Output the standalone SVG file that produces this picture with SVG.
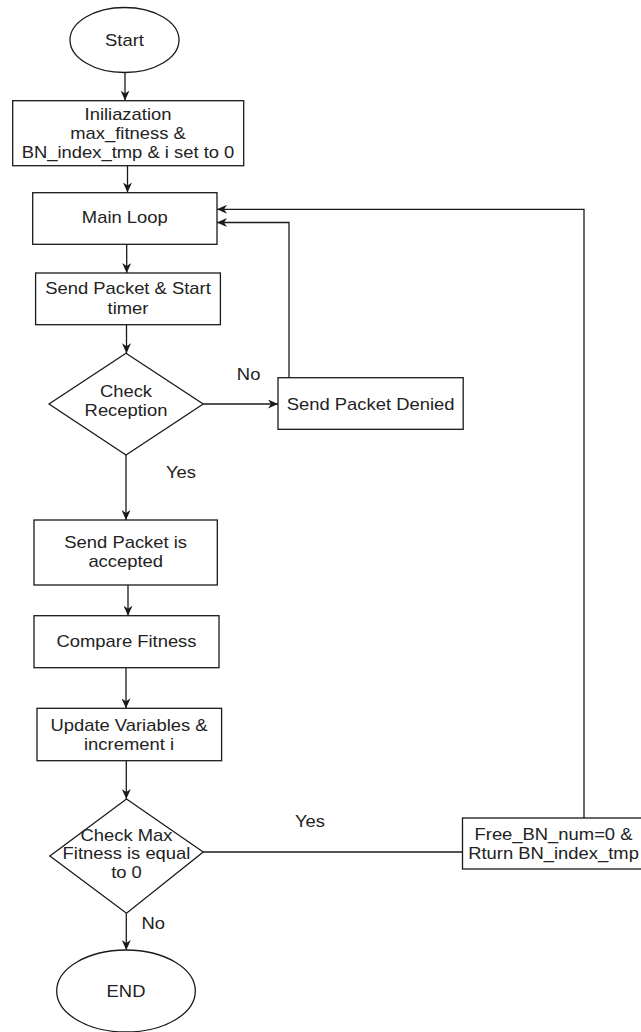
<svg xmlns="http://www.w3.org/2000/svg" width="641" height="1032" viewBox="0 0 641 1032">
<style>
.shape{fill:#fff;stroke:#1a1a1a;stroke-width:1.3}
.edge{fill:none;stroke:#1a1a1a;stroke-width:1.3}
text{font-family:"Liberation Sans",Arial,sans-serif;font-size:16px;fill:#222;text-anchor:middle}
</style>
<defs>
<marker id="arr" markerUnits="userSpaceOnUse" markerWidth="10" markerHeight="9" viewBox="0 0 10 9" refX="10" refY="4.5" orient="auto">
<path d="M0,0 L10,4.5 L0,9 L3,4.5 z" fill="#1a1a1a"/>
</marker>
</defs>
<rect width="641" height="1032" fill="#fff"/>
<g id="connectors">
<path class="edge" d="M125,72.5 L125,100.5" marker-end="url(#arr)"/>
<path class="edge" d="M127.5,166 L127.5,192.5" marker-end="url(#arr)"/>
<path class="edge" d="M126.7,244.3 L126.7,273" marker-end="url(#arr)"/>
<path class="edge" d="M126.5,324.7 L126.5,353.3" marker-end="url(#arr)"/>
<path class="edge" d="M203.2,404 L278,404" marker-end="url(#arr)"/>
<path class="edge" d="M289,377.7 L289,222.5 L217,222.5" marker-end="url(#arr)"/>
<path class="edge" d="M584,818 L584,209.3 L217,209.3" marker-end="url(#arr)"/>
<path class="edge" d="M126,455 L126,520" marker-end="url(#arr)"/>
<path class="edge" d="M128,585 L128,615.7" marker-end="url(#arr)"/>
<path class="edge" d="M126,667.7 L126,708.3" marker-end="url(#arr)"/>
<path class="edge" d="M126.3,760.7 L126.3,799" marker-end="url(#arr)"/>
<path class="edge" d="M203.2,852 L462.5,852"/>
<path class="edge" d="M126.3,913.3 L126.3,950" marker-end="url(#arr)"/>
<text transform="translate(248.6,379.5) scale(1.15,1)">No</text>
<text transform="translate(181,478) scale(1.15,1)">Yes</text>
<text transform="translate(310,827) scale(1.15,1)">Yes</text>
<text transform="translate(153.3,928.5) scale(1.15,1)">No</text>
</g>
<g id="start">
<ellipse class="shape" cx="124.5" cy="40" rx="54.5" ry="32.5"/>
<text transform="translate(124.5,45.5) scale(1.15,1)">Start</text>
</g>
<g id="init">
<rect class="shape" x="12.7" y="100.7" width="231" height="65"/>
<text transform="translate(128,120) scale(1.15,1)">Iniliazation</text>
<text transform="translate(128,139) scale(1.15,1)">max_fitness &amp;</text>
<text transform="translate(128,158) scale(1.15,1)">BN_index_tmp &amp; i set to 0</text>
</g>
<g id="mainloop">
<rect class="shape" x="32.7" y="192.7" width="184.3" height="51.6"/>
<text transform="translate(124.8,223) scale(1.15,1)">Main Loop</text>
</g>
<g id="sendpacket">
<rect class="shape" x="35.6" y="273" width="184.8" height="51.7"/>
<text transform="translate(128,294) scale(1.15,1)">Send Packet &amp; Start</text>
<text transform="translate(128,313.5) scale(1.15,1)">timer</text>
</g>
<g id="checkreception">
<polygon class="shape" points="126,353.3 203.2,404 126,455 49,404"/>
<text transform="translate(126,396.5) scale(1.15,1)">Check</text>
<text transform="translate(126,416) scale(1.15,1)">Reception</text>
</g>
<g id="denied">
<rect class="shape" x="278" y="377.7" width="185.2" height="51.6"/>
<text transform="translate(370.6,409.5) scale(1.15,1)">Send Packet Denied</text>
</g>
<g id="accepted">
<rect class="shape" x="34" y="520" width="183.3" height="65"/>
<text transform="translate(125.7,547.8) scale(1.15,1)">Send Packet is</text>
<text transform="translate(125.7,567.2) scale(1.15,1)">accepted</text>
</g>
<g id="compare">
<rect class="shape" x="34" y="615.7" width="185" height="52"/>
<text transform="translate(126.5,646.5) scale(1.15,1)">Compare Fitness</text>
</g>
<g id="update">
<rect class="shape" x="37" y="708.3" width="184.6" height="52.4"/>
<text transform="translate(129,730.5) scale(1.15,1)">Update Variables &amp;</text>
<text transform="translate(129,749.8) scale(1.15,1)">increment i</text>
</g>
<g id="checkmax">
<polygon class="shape" points="126.5,799 203.2,852 126.5,913.3 49.9,856"/>
<text transform="translate(126.5,840.8) scale(1.15,1)">Check Max</text>
<text transform="translate(126.5,859.2) scale(1.15,1)">Fitness is equal</text>
<text transform="translate(126.5,878.2) scale(1.15,1)">to 0</text>
</g>
<g id="freebn">
<rect class="shape" x="462.5" y="818" width="190" height="51"/>
<text transform="translate(553.5,839.5) scale(1.15,1)">Free_BN_num=0 &amp;</text>
<text transform="translate(553.5,858.8) scale(1.15,1)">Rturn BN_index_tmp</text>
</g>
<g id="end">
<ellipse class="shape" cx="126" cy="991" rx="69.3" ry="41"/>
<text transform="translate(126,997) scale(1.15,1)">END</text>
</g>
</svg>
